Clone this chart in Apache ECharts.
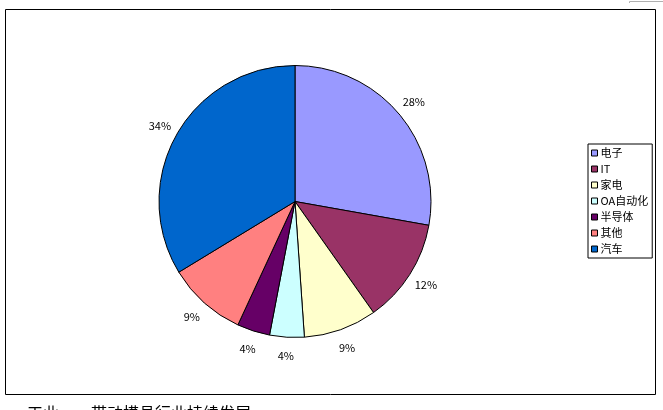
<!DOCTYPE html>
<html><head><meta charset="utf-8">
<script src="https://cdn.jsdelivr.net/npm/echarts@6/dist/echarts.min.js"></script>
<style>html,body{margin:0;padding:0;background:#fff}#c{width:663px;height:410px}</style>
</head><body><div id="c"></div>
<script>
const categories = ['电子', 'IT', '家电', 'OA自动化', '半导体', '其他', '汽车'];
const shares = [27.8, 12.4, 8.7, 4.1, 3.9, 9.4, 33.7];
const colors = ['#9999FF', '#993366', '#FFFFCC', '#CCFFFF', '#660066', '#FF8080', '#0066CC'];
const caption = '工业　　带动模具行业持续发展';

const font = '"Noto Sans CJK SC", "DejaVu Sans", sans-serif';
const data = categories.map((n, i) => ({ name: n, value: shares[i], itemStyle: { color: colors[i] } }));
const chart = echarts.init(document.getElementById('c'), null, { renderer: 'canvas' });
chart.setOption({
  backgroundColor: '#fff',
  animation: false,
  legend: {
    orient: 'vertical',
    left: 588, top: 144,
    padding: [1, 4, 1, 3],
    itemGap: 0,
    itemWidth: 6, itemHeight: 6,
    icon: 'rect',
    borderColor: '#000', borderWidth: 1,
    backgroundColor: '#fff',
    itemStyle: { borderColor: '#000', borderWidth: 1 },
    textStyle: { fontFamily: font, fontSize: 11, color: '#000', lineHeight: 16, padding: [0, 0, 0, -2] },
    data: categories.map((n, i) => ({ name: n, itemStyle: { color: colors[i], borderColor: '#000', borderWidth: 1 } })),
    selectedMode: false
  },
  series: [
    {
      type: 'pie',
      center: [295, 201.5],
      radius: [0, 136],
      startAngle: 90,
      clockwise: true,
      data: data,
      itemStyle: { borderColor: '#000', borderWidth: 1 },
      label: { show: false },
      labelLine: { show: false },
      emphasis: { disabled: true }
    },
    {
      type: 'pie',
      center: [295, 201.5],
      radius: [136, 168],
      startAngle: 90,
      clockwise: true,
      silent: true,
      data: categories.map((n, i) => ({ name: n, value: shares[i] })),
      itemStyle: { color: 'rgba(0,0,0,0)', borderWidth: 0 },
      label: {
        show: true, position: 'inside',
        formatter: p => Math.round(p.percent) + '%',
        fontFamily: font, fontSize: 11, color: '#000'
      },
      labelLine: { show: false },
      emphasis: { disabled: true }
    }
  ],
  graphic: [
    { type: 'rect', shape: { x: 5.5, y: 9.5, width: 650, height: 385 }, style: { fill: null, stroke: '#000', lineWidth: 1 }, z: 0 },
    { type: 'polyline', shape: { points: [[629.5, 3], [629.5, 1.5], [663, 1.5]] }, style: { fill: null, stroke: '#b0b0b0', lineWidth: 1 } },
    { type: 'text', left: 27, top: 405, style: { text: caption, font: '16px ' + font, fill: '#000' } }
  ]
});
</script></body></html>
